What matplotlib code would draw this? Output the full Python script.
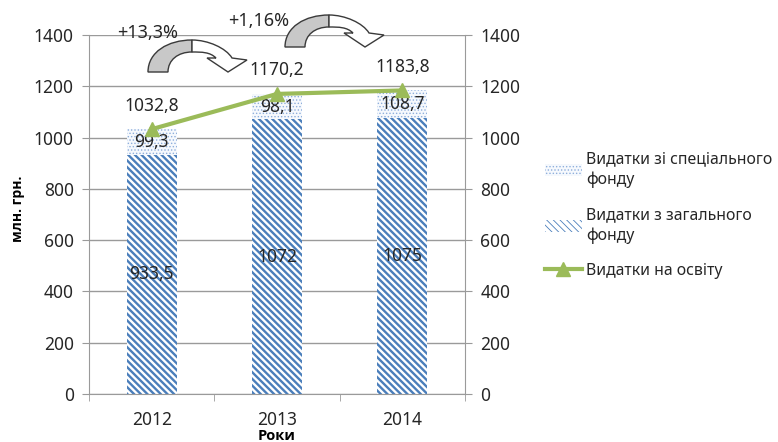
import matplotlib.pyplot as plt
from matplotlib.path import Path
from matplotlib.patches import PathPatch, Patch
from matplotlib.lines import Line2D
from matplotlib.transforms import Affine2D

years = ['2012', '2013', '2014']
general_fund = [933.5, 1072, 1075]
special_fund = [99.3, 98.1, 108.7]
education_total = [1032.8, 1170.2, 1183.8]
growth_labels = ['+13,3%', '+1,16%']

plt.rcParams['font.family'] = ['Noto Sans', 'DejaVu Sans']
plt.rcParams['font.size'] = 12.5

W, H = 778, 442
fig = plt.figure(figsize=(W / 100, H / 100), dpi=100)
ax = fig.add_axes([89 / W, 1 - 394 / H, 376 / W, 359 / H])

grid_col = '#9a9a9a'
txt_col = '#262626'
blue = '#4a7ebb'
dots = '#8eaedc'
green = '#9bbb59'
bold_font = ['Open Sans', 'Liberation Sans', 'DejaVu Sans']
stripes = '\\' * 5


def fmt(v):
    return f'{v:g}'.replace('.', ',')


x = list(range(len(years)))

plt.rcParams['hatch.linewidth'] = 1.7
bars_gen = ax.bar(x, general_fund, width=0.4, facecolor='white',
                  edgecolor=blue, linewidth=0, hatch=stripes, zorder=2)
plt.rcParams['hatch.linewidth'] = 0.6
bars_spec = ax.bar(x, special_fund, bottom=general_fund, width=0.4,
                   facecolor='#f6f9fd', edgecolor=dots, linewidth=0,
                   hatch='.....', zorder=2)

ax.bar_label(bars_gen, labels=[fmt(v) for v in general_fund],
             label_type='center', color=txt_col)
ax.bar_label(bars_spec, labels=[fmt(v) for v in special_fund],
             label_type='center', color=txt_col)

ax.set_xlim(-0.5, 2.5)
ax.set_ylim(0, 1400)
ax.set_yticks(range(0, 1401, 200))
ax.set_xticks(x)
ax.set_xticklabels(years)
ax.set_xticks([-0.5, 0.5, 1.5, 2.5], minor=True)
ax.tick_params(axis='x', which='major', length=0, pad=12, colors=txt_col)
ax.tick_params(axis='x', which='minor', length=5, color=grid_col)
ax.tick_params(axis='y', length=5, color=grid_col, labelcolor=txt_col, pad=6)
ax.grid(axis='y', color=grid_col, linewidth=1, zorder=0)
ax.set_axisbelow(True)
for s in ['top', 'right']:
    ax.spines[s].set_visible(False)
for s in ['left', 'bottom']:
    ax.spines[s].set_color(grid_col)

# secondary axis carries the total line
ax2 = ax.twinx()
ax2.set_ylim(0, 1400)
ax2.set_yticks(range(0, 1401, 200))
ax2.tick_params(axis='y', length=5, color=grid_col, labelcolor=txt_col, pad=6)
for s in ['top', 'left', 'bottom']:
    ax2.spines[s].set_visible(False)
ax2.spines['right'].set_color(grid_col)
ax2.plot(x, education_total, color=green, linewidth=3, marker='^',
         markersize=10, zorder=4)
for xi, v in zip(x, education_total):
    ax2.annotate(fmt(v), (xi, v), xytext=(0, 17), textcoords='offset points',
                 ha='center', va='center', color=txt_col)

fig.text(18 / W, 1 - 209 / H, 'млн. грн.', rotation=90, ha='center',
         va='center', fontweight='bold', fontsize=10, color='black',
         family=bold_font)
fig.text(277 / W, 1 - 436 / H, 'Роки', ha='center', va='center',
         fontweight='bold', fontsize=10.5, color='black', family=bold_font)

handles = [
    Patch(facecolor='#f6f9fd', edgecolor=dots, hatch='.....', linewidth=0),
    Patch(facecolor='white', edgecolor=blue, hatch=stripes, linewidth=0),
    Line2D([], [], color=green, linewidth=3, marker='^', markersize=10),
]
labels = ['Видатки зі спеціального\nфонду', 'Видатки з загального\nфонду',
          'Видатки на освіту']
leg = fig.legend(handles, labels, loc='upper left',
                 bbox_to_anchor=(531 / W, 1 - 137 / H), frameon=False,
                 fontsize=11.4, handlelength=2.3, handleheight=0.8,
                 handletextpad=0.3, labelspacing=1.2, labelcolor=txt_col)
for t in leg.get_texts():
    t.set_linespacing(1.35)


def curved_arrow(ox, oy):
    # gray underside of the bent arrow plus the white head part, in pixels
    to_px = Affine2D().scale(1, -1).translate(ox, H - oy)
    c4, ln = Path.CURVE4, Path.LINETO
    under = Path([(0, 0), (0, -20), (20, -32), (44, -32), (44, -20),
                  (30, -20), (20, -12), (20, 0), (0, 0)],
                 [Path.MOVETO, c4, c4, c4, ln, c4, c4, c4, Path.CLOSEPOLY])
    top = Path([(44, -32), (60, -32), (78, -24), (84, -14), (99, -12),
                (80, 0), (59, -14), (68, -14), (62, -20), (54, -20),
                (44, -20), (44, -32)],
               [Path.MOVETO, c4, c4, c4, ln, ln, ln, ln, c4, c4, c4,
                Path.CLOSEPOLY])
    for p, fc in ((under, '#c8c8c8'), (top, 'white')):
        fig.add_artist(PathPatch(p, transform=to_px, facecolor=fc,
                                 edgecolor='#3a3a3a', linewidth=1))


curved_arrow(148, 72)
curved_arrow(285, 47)
fig.text(148 / W, 1 - 33 / H, growth_labels[0], ha='center', va='center',
         color=txt_col, fontsize=13)
fig.text(259 / W, 1 - 21 / H, growth_labels[1], ha='center', va='center',
         color=txt_col, fontsize=13)

fig.savefig('out.png', dpi=100)
